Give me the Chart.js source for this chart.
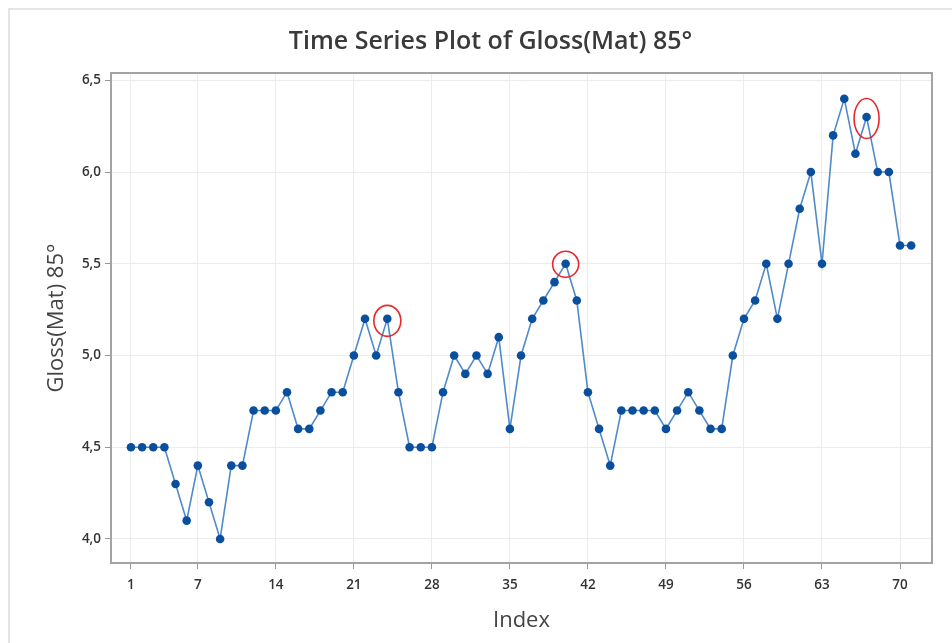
<!DOCTYPE html>
<html>
<head>
<meta charset="utf-8">
<script src="https://cdn.jsdelivr.net/npm/chart.js@4/dist/chart.umd.min.js"></script>
<style>
  html, body { margin: 0; padding: 0; background: #fff; }
  #wrap { position: relative; width: 952px; height: 643px; overflow: hidden; }
  #frame { position: absolute; left: 8px; top: 8px; width: 960px; height: 660px;
           border-top: 2px solid #e4e4e4; border-left: 2px solid #e4e4e4; }
  #myChart { position: absolute; left: 0; top: 0; }
</style>
</head>
<body>
<div id="wrap">
  <div id="frame"></div>
  <canvas id="myChart" width="952" height="643"></canvas>
</div>
<script>
const chartTitle = "Time Series Plot of Gloss(Mat) 85°";
const xTitle = "Index";
const yTitle = "Gloss(Mat) 85°";

// one value per observation, index 1..71
const glossValues = [
  4.5, 4.5, 4.5, 4.5, 4.3, 4.1, 4.4, 4.2, 4.0, 4.4,
  4.4, 4.7, 4.7, 4.7, 4.8, 4.6, 4.6, 4.7, 4.8, 4.8,
  5.0, 5.2, 5.0, 5.2, 4.8, 4.5, 4.5, 4.5, 4.8, 5.0,
  4.9, 5.0, 4.9, 5.1, 4.6, 5.0, 5.2, 5.3, 5.4, 5.5,
  5.3, 4.8, 4.6, 4.4, 4.7, 4.7, 4.7, 4.7, 4.6, 4.7,
  4.8, 4.7, 4.6, 4.6, 5.0, 5.2, 5.3, 5.5, 5.2, 5.5,
  5.8, 6.0, 5.5, 6.2, 6.4, 6.1, 6.3, 6.0, 6.0, 5.6,
  5.6
];
const indexValues = glossValues.map((v, i) => i + 1);

const xTicks = [1, 7, 14, 21, 28, 35, 42, 49, 56, 63, 70];
const yTicks = [4.0, 4.5, 5.0, 5.5, 6.0, 6.5];

// circled observations
const highlightIdx = [24, 40, 67];

const fontFamily = "'Open Sans', 'Noto Sans', sans-serif";

// ellipse size per circled point (rx, ry, y shift)
const ringShapes = [[13.5, 15.5, 2], [13, 13, 0.5], [12.5, 20, 1.5]];

const titlePlugin = {
  id: "plotTitle",
  afterDraw(chart) {
    const ctx = chart.ctx;
    ctx.save();
    ctx.font = "600 25px " + fontFamily;
    ctx.fillStyle = "#3a3a3a";
    ctx.textAlign = "center";
    ctx.textBaseline = "middle";
    ctx.fillText(chartTitle, chart.width / 2 + 14.5, 42);
    ctx.restore();
  }
};

const framePlugin = {
  id: "plotFrame",
  beforeDatasetsDraw(chart) {
    const a = chart.chartArea;
    const ctx = chart.ctx;
    ctx.save();
    ctx.strokeStyle = "#a3a3a3";
    ctx.lineWidth = 2;
    ctx.strokeRect(a.left, a.top, a.right - a.left, a.bottom - a.top);
    ctx.restore();
  }
};

const ringPlugin = {
  id: "rings",
  afterDatasetsDraw(chart) {
    const ctx = chart.ctx;
    const xs = chart.scales.x;
    const ys = chart.scales.y;
    ctx.save();
    ctx.strokeStyle = "#e8282c";
    ctx.lineWidth = 1.6;
    highlightIdx.forEach((idx, k) => {
      const s = ringShapes[k];
      const px = xs.getPixelForValue(idx);
      const py = ys.getPixelForValue(glossValues[idx - 1]) + s[2];
      ctx.beginPath();
      ctx.ellipse(px, py, s[0], s[1], 0, 0, Math.PI * 2);
      ctx.stroke();
    });
    ctx.restore();
  }
};

function criarGrafico() {
  const ctx = document.querySelector("#myChart").getContext("2d");

  const data = {
    datasets: [
      {
        label: yTitle,
        data: indexValues.map((x, i) => ({ x: x, y: glossValues[i] })),
        borderColor: "#4f8acb",
        borderWidth: 1.6,
        pointRadius: 4.3,
        pointBackgroundColor: "#0a4f9e",
        pointBorderColor: "#0a4f9e",
        pointBorderWidth: 0,
        tension: 0,
      },
    ],
  };

  const tickFont = { family: fontFamily, size: 13.5, weight: "600" };
  const axisTitleFont = { family: fontFamily, size: 22 };

  const options = {
    responsive: false,
    animation: false,
    layout: { padding: { top: 73, left: 16, right: 20, bottom: 7 } },
    plugins: {
      legend: { display: false },
      title: { display: false },
      tooltip: { enabled: false },
    },
    scales: {
      x: {
        type: "linear",
        min: -0.79,
        max: 72.87,
        afterBuildTicks: (scale) => {
          scale.ticks = xTicks.map((v) => ({ value: v }));
        },
        afterFit: (scale) => {
          scale.height = 73;
        },
        ticks: {
          color: "#333",
          font: tickFont,
          padding: 8,
          maxRotation: 0,
          autoSkip: false,
        },
        grid: {
          color: "#ececec",
          lineWidth: 1,
          tickColor: "#999",
          tickLength: 6,
        },
        border: { display: false },
        title: {
          display: true,
          text: xTitle,
          color: "#444",
          font: axisTitleFont,
          padding: { top: 0, bottom: 2 },
        },
      },
      y: {
        min: 3.869,
        max: 6.54,
        afterBuildTicks: (scale) => {
          scale.ticks = yTicks.map((v) => ({ value: v }));
        },
        afterFit: (scale) => {
          scale.width = 95;
        },
        ticks: {
          color: "#333",
          font: tickFont,
          padding: 4,
          callback: (v) => Number(v).toFixed(1).replace(".", ","),
        },
        grid: {
          color: "#ececec",
          lineWidth: 1,
          tickColor: "#999",
          tickLength: 6,
        },
        border: { display: false },
        title: {
          display: true,
          text: yTitle,
          color: "#444",
          font: axisTitleFont,
          padding: { top: 28, bottom: 0 },
        },
      },
    },
  };

  return new Chart(ctx, {
    type: "line",
    data: data,
    options: options,
    plugins: [titlePlugin, framePlugin, ringPlugin],
  });
}

const myChart = criarGrafico();
</script>
</body>
</html>
